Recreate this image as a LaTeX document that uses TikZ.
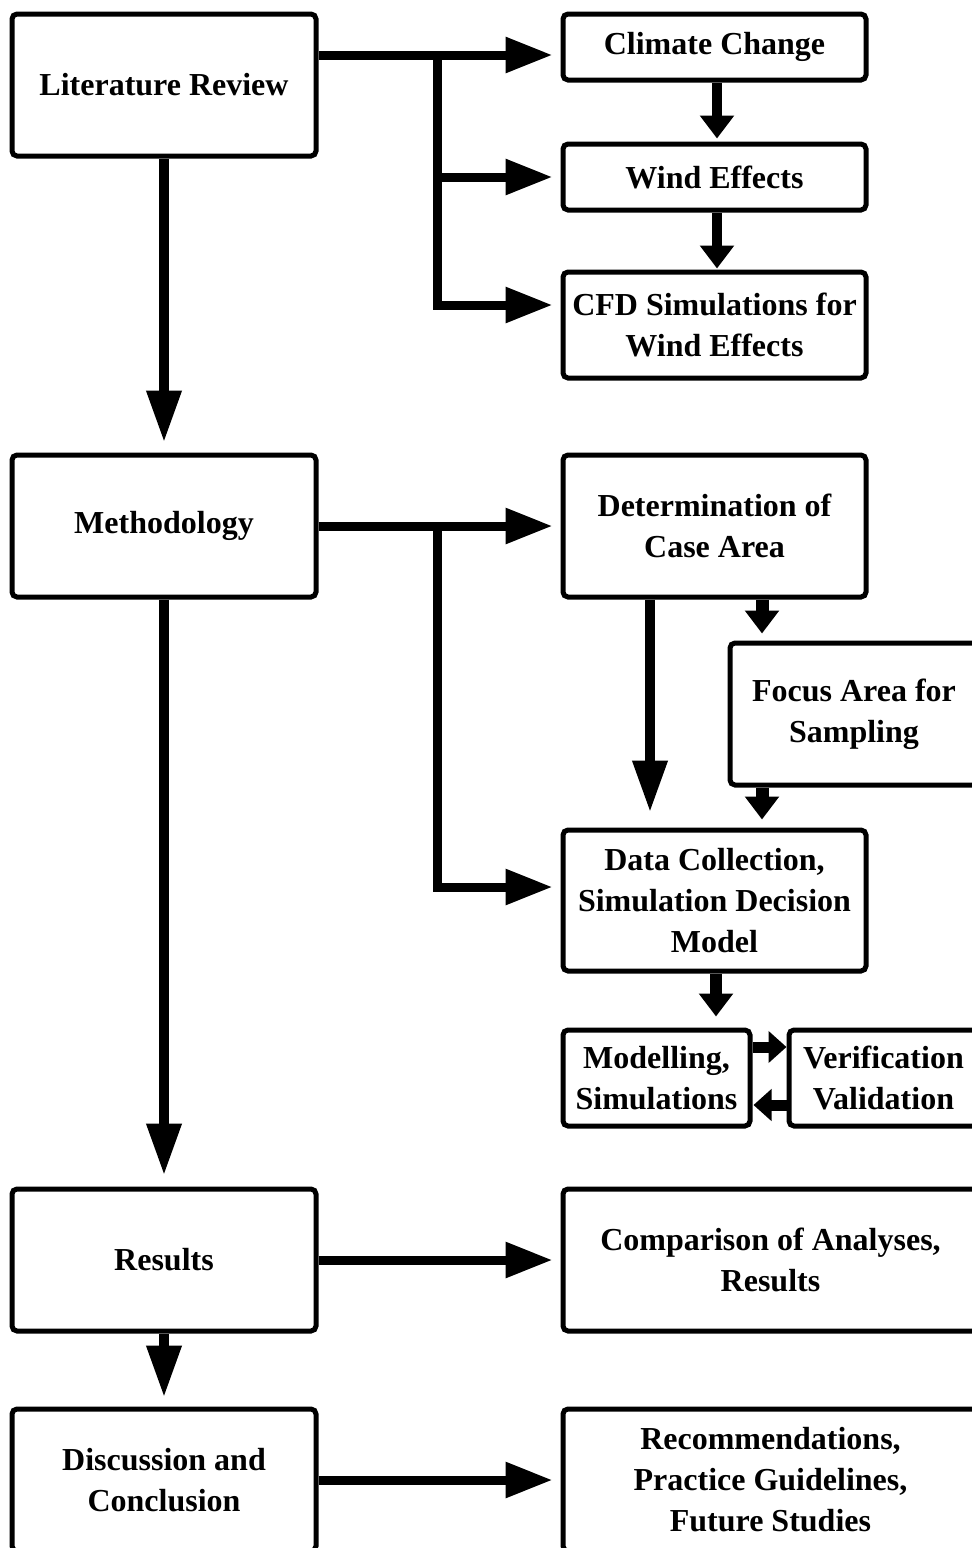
\documentclass[tikz,border=0pt]{standalone}
\usepackage{fontspec}
\setmainfont{Liberation Serif}
\usetikzlibrary{arrows.meta}

\begin{document}
\begin{tikzpicture}[x=1pt, y=-1pt]
  \tikzset{box/.style={rectangle, draw, line width=5pt, rounded corners=5pt, inner sep=0pt, align=center, font=\bfseries\fontsize{32}{41}\selectfont}}
  \tikzset{bigarrow/.style={line width=9pt, -{Triangle[length=47pt, width=34pt]}}}
  \tikzset{longarrow/.style={line width=10pt, -{Triangle[length=52pt, width=33pt]}}}
  \tikzset{smallarrow/.style={line width=10pt, -{Triangle[length=23pt, width=33pt]}}}
  \tikzset{tinyarrow/.style={line width=11pt, -{Triangle[length=18pt, width=31pt]}}}

  \useasboundingbox (0,0) rectangle (972,1548);

  \node[box, minimum width=304pt, minimum height=142pt] (litrev) at (164,85) {Literature Review};
  \node[box, minimum width=303pt, minimum height=66pt] (climate) at (714.5,47) {Climate Change};
  \node[box, minimum width=303pt, minimum height=66pt] (wind) at (714.5,177) {Wind Effects};
  \node[box, minimum width=303pt, minimum height=106pt] (cfd) at (714.5,325) {CFD Simulations for\\Wind Effects};

  \node[box, minimum width=304pt, minimum height=142pt] (method) at (164,526) {Methodology};
  \node[box, minimum width=303pt, minimum height=142pt] (determ) at (714.5,526) {Determination of\\Case Area};
  \node[box, minimum width=248pt, minimum height=142pt] (focus) at (854,714) {Focus Area for\\Sampling};
  \node[box, minimum width=303pt, minimum height=141pt] (data) at (714.5,900.5) {Data Collection,\\Simulation Decision\\Model};
  \node[box, minimum width=187pt, minimum height=96pt] (model) at (656.5,1078) {Modelling,\\Simulations};
  \node[box, minimum width=189pt, minimum height=96pt] (verif) at (883.5,1078) {Verification\\Validation};

  \node[box, minimum width=304pt, minimum height=142pt] (results) at (164,1260) {Results};
  \node[box, minimum width=415pt, minimum height=142pt] (compar) at (770.5,1260) {Comparison of Analyses,\\Results};

  \node[box, minimum width=304pt, minimum height=142pt] (discuss) at (164,1480) {Discussion and\\Conclusion};
  \node[box, minimum width=415pt, minimum height=142pt] (recom) at (770.5,1480) {Recommendations,\\Practice Guidelines,\\Future Studies};

  \coordinate (lrjoin) at (437,55);
  \coordinate (mjoin) at (437,526);

  \draw[bigarrow, shorten >=8pt] (litrev.east |- lrjoin) -- (climate.west |- lrjoin);
  \draw[bigarrow, shorten >=8pt] (lrjoin |- wind.west) -- (wind.west);
  \draw[bigarrow, shorten >=8pt] (lrjoin) |- ([yshift=20pt]cfd.west);
  \draw[smallarrow, shorten >=3pt] ([xshift=2.5pt]climate.south) -- ([xshift=2.5pt]wind.north);
  \draw[smallarrow, shorten >=1pt] ([xshift=2.5pt]wind.south) -- ([xshift=2.5pt]cfd.north);
  \draw[longarrow, shorten >=10pt] (litrev.south) -- (method.north);

  \draw[bigarrow, shorten >=8pt] (method.east) -- (determ.west);
  \draw[bigarrow, shorten >=8pt] (mjoin) |- ([yshift=13.5pt]data.west);
  \draw[longarrow, shorten >=15pt] ([xshift=-64.5pt]determ.south) -- ([xshift=-64.5pt]determ.south |- data.north);
  \draw[smallarrow, line width=13pt, shorten >=7pt] ([xshift=47.5pt]determ.south) -- ([xshift=47.5pt]determ.south |- focus.north);
  \draw[smallarrow, line width=13pt, shorten >=8pt] ([xshift=-92pt]focus.south) -- ([xshift=-92pt]focus.south |- data.north);
  \draw[smallarrow, line width=12pt, shorten >=11pt] ([xshift=1.5pt]data.south) -- ([xshift=1.5pt]data.south |- model.north);
  \draw[tinyarrow, shorten >=0pt] ([yshift=31pt]model.east) -- ([yshift=31pt]verif.west);
  \draw[tinyarrow, shorten >=1pt] ([yshift=-27pt]verif.west) -- ([yshift=-27pt]model.east);
  \draw[longarrow, shorten >=11pt] (method.south) -- (results.north);

  \draw[bigarrow, shorten >=8pt] (results.east) -- (compar.west);
  \draw[longarrow, shorten >=9pt] (results.south) -- (discuss.north);
  \draw[bigarrow, shorten >=8pt] (discuss.east) -- (recom.west);
\end{tikzpicture}
\end{document}
